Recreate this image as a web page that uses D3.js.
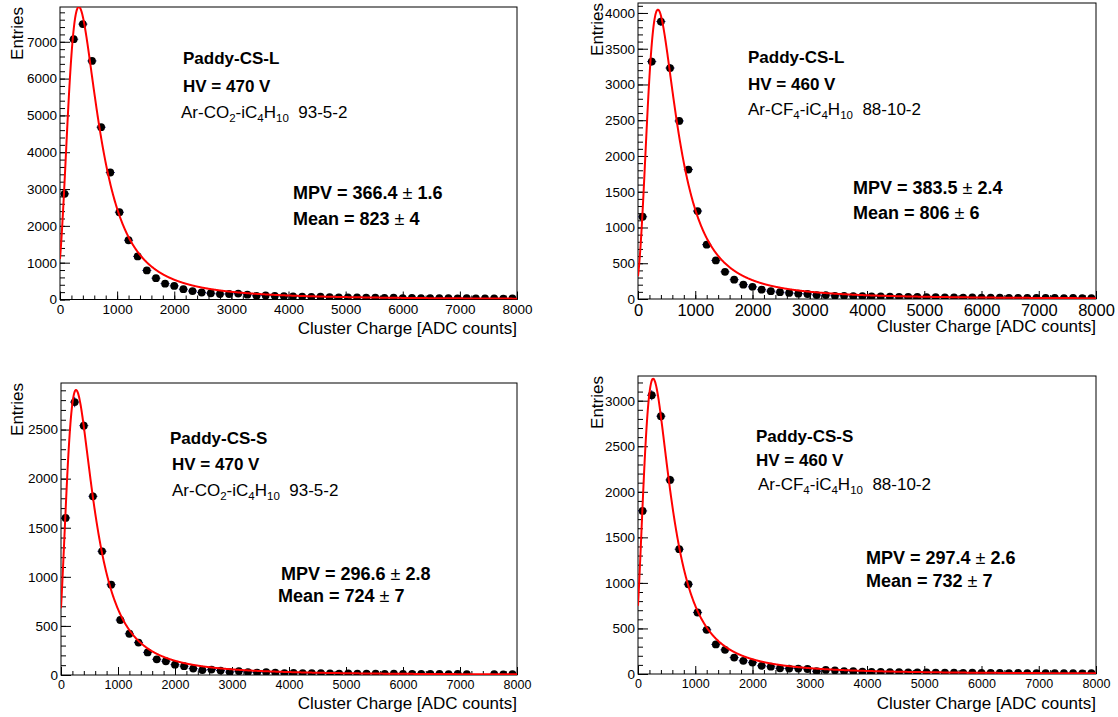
<!DOCTYPE html>
<html>
<head>
<meta charset="utf-8">
<script src="https://cdn.jsdelivr.net/npm/d3@7"></script>
<style>
  body { margin: 0; background: #fff; }
  svg { display: block; }
  text { font-family: "Liberation Sans", Arial, Helvetica, sans-serif; fill: #000; }
</style>
</head>
<body>
<svg id="chart" width="1118" height="717"></svg>
<script>
// ---- Histogram binning: 50 bins of 160 ADC counts over 0..8000 ----
const binWidth = 160;
const xRange = [0, 8000];
const binCenters = d3.range(50).map(i => binWidth / 2 + i * binWidth);

// ---- Cluster charge spectra (entries per bin) ----
const entriesL470 = [2870, 7070, 7480, 6480, 4680, 3450, 2370, 1610, 1170, 790, 580, 430, 370, 280, 230, 190, 170, 150, 150, 160, 130, 100, 110, 100, 90,
                     85, 80, 70, 75, 65, 60, 55, 60, 50, 50, 45, 50, 40, 45, 40, 35, 40, 35, 30, 35, 30, 28, 30, 25, 28];
const entriesL460 = [1150, 3320, 3880, 3230, 2490, 1810, 1230, 760, 540, 380, 270, 200, 170, 130, 110, 95, 85, 75, 70, 55, 55, 45, 45, 40, 40,
                     38, 35, 33, 30, 28, 30, 25, 27, 22, 24, 20, 22, 19, 18, 20, 16, 17, 15, 16, 14, 15, 13, 14, 12, 13];
const entriesS470 = [1600, 2780, 2540, 1820, 1260, 920, 560, 420, 330, 230, 160, 140, 105, 90, 65, 50, 55, 45, 30, 38, 30, 25, 30, 25, 20,
                     22, 20, 18, 20, 17, 15, 16, 14, 15, 13, 12, 14, 11, 12, 10, 11, 10, 9, 10, 8, 0, 0, 8, 7, 8];
const entriesS460 = [1790, 3060, 2830, 2130, 1370, 985, 675, 485, 325, 265, 180, 145, 125, 90, 80, 62, 60, 60, 55, 30, 45, 40, 30, 30, 25,
                     24, 22, 20, 21, 18, 17, 18, 15, 16, 14, 13, 14, 12, 12, 11, 10, 11, 9, 10, 9, 8, 9, 8, 7, 8];

// ---- Landau fit parameters: constant, MPV, sigma ----
const fitConstant = [44000, 22400, 16070, 17940];
const fitMPV      = [366.4, 383.5, 296.6, 297.4];
const fitMPVErr   = [1.6, 2.4, 2.8, 2.6];
const fitSigma    = [165, 160, 147, 147];
const meanValue   = [823, 806, 724, 732];
const meanErr     = [4, 6, 7, 7];

// ---- Text ----
const detectorNames = ["Paddy-CS-L", "Paddy-CS-L", "Paddy-CS-S", "Paddy-CS-S"];
const hvLabels = ["HV = 470 V", "HV = 460 V", "HV = 470 V", "HV = 460 V"];
const gasCO2 = [["Ar-CO", 0], ["2", 1], ["-iC", 0], ["4", 1], ["H", 0], ["10", 1], ["  93-5-2", 0]];
const gasCF4 = [["Ar-CF", 0], ["4", 1], ["-iC", 0], ["4", 1], ["H", 0], ["10", 1], ["  88-10-2", 0]];
const gasMixes = [gasCO2, gasCF4, gasCO2, gasCF4];
const xTitle = "Cluster Charge [ADC counts]";
const yTitle = "Entries";
const xTickValues = [0, 1000, 2000, 3000, 4000, 5000, 6000, 7000, 8000];
const yMajorStep = [1000, 500, 500, 500];

const spectra = [entriesL470, entriesL460, entriesS470, entriesS460];

// ---- Panel layout ----
const panels = [
  { frame: { x0: 60, x1: 517, y0: 7, y1: 299.5 }, xLabelSize: 13.5, xLabelGap: 5,
    yTitleX: 23, xTitleY: 334,
    name: [183, 64], hv: [183, 92], gas: [181, 118], mpv: [293, 199], mean: [293, 225] },
  { frame: { x0: 638, x1: 1096, y0: 3, y1: 299 }, xLabelSize: 16.5, xLabelGap: 5,
    yTitleX: 603, xTitleY: 332,
    name: [748, 63], hv: [748, 90], gas: [748, 115], mpv: [853, 194], mean: [853, 219] },
  { frame: { x0: 61, x1: 517, y0: 383, y1: 675 }, xLabelSize: 12.5, xLabelGap: 5,
    yTitleX: 23, xTitleY: 709,
    name: [170, 444], hv: [172, 470], gas: [172, 496], mpv: [281, 580], mean: [278, 602] },
  { frame: { x0: 638, x1: 1096, y0: 376, y1: 674 }, xLabelSize: 12.5, xLabelGap: 5,
    yTitleX: 603, xTitleY: 709,
    name: [756, 442], hv: [756, 466], gas: [758, 490], mpv: [866, 564], mean: [866, 587] }
];

// ---- Landau density (CERNLIB DENLAN) ----
function landau(x, mpv, sigma) {
  const p1 = [0.4259894875, -0.1249762550, 0.03984243700, -0.006298287635, 0.001511162253];
  const q1 = [1.0, -0.3388260629, 0.09594393323, -0.01608042283, 0.003778942063];
  const p2 = [0.1788541609, 0.1173957403, 0.01488850518, -0.001394989411, 0.0001283617211];
  const q2 = [1.0, 0.7428795082, 0.3153932961, 0.06694219548, 0.008790609714];
  const p3 = [0.1788544503, 0.09359161662, 0.006325387654, 0.00006611667319, -0.000002031049101];
  const q3 = [1.0, 0.6097809921, 0.2560616665, 0.04746722384, 0.006957301675];
  const p4 = [0.9874054407, 118.6723273, 849.2794360, -743.7792444, 427.0262186];
  const q4 = [1.0, 106.8615961, 337.6496214, 2016.712389, 1597.063511];
  const p5 = [1.003675074, 167.5702434, 4789.711289, 21217.86767, -22324.94910];
  const q5 = [1.0, 156.9424537, 3745.310488, 9834.698876, 66924.28357];
  const p6 = [1.000827619, 664.9143136, 62972.92665, 475554.6998, -5743609.109];
  const q6 = [1.0, 651.4101098, 56974.73333, 165917.4725, -2815759.939];
  const a1 = [0.04166666667, -0.01996527778, 0.02709538966];
  const a2 = [-1.845568670, -4.284640743];
  const poly = (c, t) => c[0] + (c[1] + (c[2] + (c[3] + c[4] * t) * t) * t) * t;
  const v = (x - mpv) / sigma;
  let u, d;
  if (v < -5.5) {
    u = Math.exp(v + 1.0);
    if (u < 1e-10) return 0;
    d = 0.3989422803 * (Math.exp(-1 / u) / Math.sqrt(u)) * (1 + (a1[0] + (a1[1] + a1[2] * u) * u) * u);
  } else if (v < -1) {
    u = Math.exp(-v - 1);
    d = Math.exp(-u) * Math.sqrt(u) * poly(p1, v) / poly(q1, v);
  } else if (v < 1) {
    d = poly(p2, v) / poly(q2, v);
  } else if (v < 5) {
    d = poly(p3, v) / poly(q3, v);
  } else if (v < 12) {
    u = 1 / v; d = u * u * poly(p4, u) / poly(q4, u);
  } else if (v < 50) {
    u = 1 / v; d = u * u * poly(p5, u) / poly(q5, u);
  } else if (v < 300) {
    u = 1 / v; d = u * u * poly(p6, u) / poly(q6, u);
  } else {
    u = 1 / (v - v * Math.log(v) / (v + 1));
    d = u * u * (1 + (a2[0] + a2[1] * u) * u);
  }
  return d;
}

const svg = d3.select("#chart");
const errColor = "#1b1b8a";

panels.forEach((p, k) => {
  const f = p.frame;
  const counts = spectra[k];
  const bins = binCenters.map((c, i) => ({ x: c, n: counts[i], e: Math.sqrt(counts[i]) }));
  const yTop = 1.05 * d3.max(bins, b => b.n + b.e);

  const x = d3.scaleLinear().domain(xRange).range([f.x0, f.x1]);
  const y = d3.scaleLinear().domain([0, yTop]).range([f.y1, f.y0]);

  const g = svg.append("g");
  const clipId = "clip" + k;
  g.append("clipPath").attr("id", clipId)
    .append("rect").attr("x", f.x0).attr("y", f.y0)
    .attr("width", f.x1 - f.x0).attr("height", f.y1 - f.y0);

  // Y axis: major and minor ticks pointing into the frame
  const yMajors = d3.range(0, yTop, yMajorStep[k]);
  const yMinors = d3.range(0, yTop, yMajorStep[k] / 5);
  g.append("g").attr("transform", `translate(${f.x0},0)`)
    .call(d3.axisLeft(y).tickValues(yMinors).tickSize(-5).tickFormat(""))
    .call(a => a.select(".domain").remove());
  const yAx = g.append("g").attr("transform", `translate(${f.x0},0)`)
    .call(d3.axisLeft(y).tickValues(yMajors).tickSize(-10).tickPadding(3).tickFormat(d3.format("d")))
    .call(a => a.select(".domain").remove());
  yAx.selectAll("text").style("font-size", "13.5px").attr("font-family", null).attr("fill", "#000");

  // X axis
  const xMinors = d3.range(0, 8001, 200);
  g.append("g").attr("transform", `translate(0,${f.y1})`)
    .call(d3.axisBottom(x).tickValues(xMinors).tickSize(-4).tickFormat(""))
    .call(a => a.select(".domain").remove());
  const xAx = g.append("g").attr("transform", `translate(0,${f.y1})`)
    .call(d3.axisBottom(x).tickValues(xTickValues).tickSize(-8).tickPadding(p.xLabelGap).tickFormat(d3.format("d")))
    .call(a => a.select(".domain").remove());
  xAx.selectAll("text").style("font-size", p.xLabelSize + "px").attr("font-family", null).attr("fill", "#000");
  g.selectAll(".tick line").attr("stroke", "#000");

  // Frame
  g.append("rect").attr("x", f.x0).attr("y", f.y0)
    .attr("width", f.x1 - f.x0).attr("height", f.y1 - f.y0)
    .attr("fill", "none").attr("stroke", "#000").attr("stroke-width", 1);

  // Axis titles
  g.append("text").attr("x", f.x1).attr("y", p.xTitleY)
    .attr("text-anchor", "end").style("font-size", "17px").text(xTitle);
  g.append("text")
    .attr("transform", `translate(${p.yTitleX},${f.y0}) rotate(-90)`)
    .attr("text-anchor", "end").style("font-size", "17px").text(yTitle);

  // Data points with error bars (empty bins are not drawn)
  const pts = g.append("g").attr("clip-path", `url(#${clipId})`);
  const filled = bins.filter(b => b.n > 0);
  pts.selectAll("line.h").data(filled).join("line")
    .attr("x1", b => x(b.x - binWidth / 2)).attr("x2", b => x(b.x + binWidth / 2))
    .attr("y1", b => y(b.n)).attr("y2", b => y(b.n))
    .attr("stroke", errColor).attr("stroke-width", 1);
  pts.selectAll("line.v").data(filled).join("line")
    .attr("x1", b => x(b.x)).attr("x2", b => x(b.x))
    .attr("y1", b => y(b.n - b.e)).attr("y2", b => y(b.n + b.e))
    .attr("stroke", errColor).attr("stroke-width", 1);
  pts.selectAll("circle").data(filled).join("circle")
    .attr("cx", b => x(b.x)).attr("cy", b => y(b.n)).attr("r", 3.9)
    .attr("fill", "#000");

  // Landau fit curve
  const fx = d3.range(xRange[0], xRange[1] + 1, 5);
  const line = d3.line()
    .x(d => x(d))
    .y(d => y(fitConstant[k] * landau(d, fitMPV[k], fitSigma[k])));
  g.append("path").attr("clip-path", `url(#${clipId})`)
    .attr("d", line(fx)).attr("fill", "none")
    .attr("stroke", "#ff0000").attr("stroke-width", 2);

  // Annotations
  const bold = (pos, str, size) => g.append("text").attr("x", pos[0]).attr("y", pos[1])
    .style("font-size", size + "px").style("font-weight", "bold").text(str);
  bold(p.name, detectorNames[k], 17);
  bold(p.hv, hvLabels[k], 17);
  const gas = g.append("text").attr("x", p.gas[0]).attr("y", p.gas[1])
    .style("font-size", "17px").style("white-space", "pre");
  let prevSub = 0;
  gasMixes[k].forEach(([s, sub]) => {
    gas.append("tspan")
      .attr("dy", sub === prevSub ? 0 : (sub ? 4 : -4))
      .style("font-size", sub ? "11.5px" : "17px")
      .text(s);
    prevSub = sub;
  });

  // Fit result lines: value ± error, with a light-weight ± sign
  const pmLine = (pos, head, err) => {
    const t = g.append("text").attr("x", pos[0]).attr("y", pos[1])
      .style("font-size", "18px").style("font-weight", "bold").style("white-space", "pre");
    t.append("tspan").text(head + " ");
    t.append("tspan").style("font-weight", "normal").text("\u00b1");
    t.append("tspan").text(" " + err);
  };
  pmLine(p.mpv, `MPV = ${fitMPV[k].toFixed(1)}`, fitMPVErr[k].toFixed(1));
  pmLine(p.mean, `Mean = ${meanValue[k]}`, meanErr[k]);
});
</script>
</body>
</html>
